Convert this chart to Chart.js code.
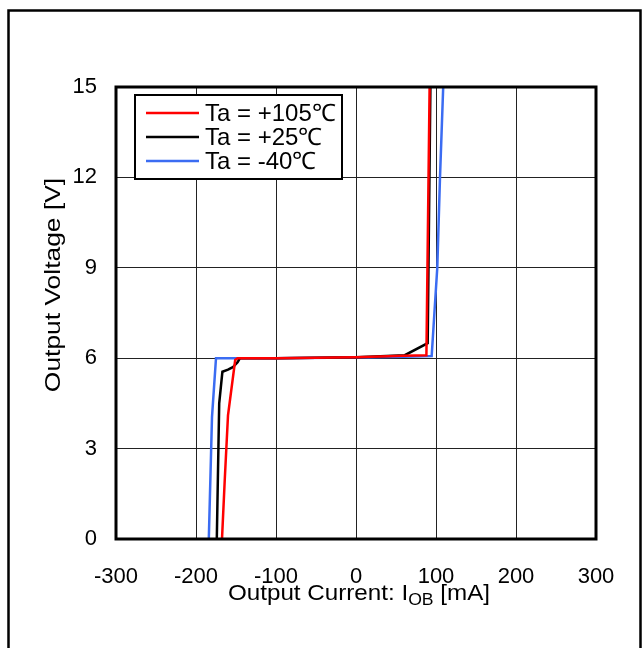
<!DOCTYPE html>
<html>
<head>
<meta charset="utf-8">
<script src="https://cdn.jsdelivr.net/npm/chart.js@4.4.1/dist/chart.umd.min.js"></script>
<style>
  html, body { margin: 0; padding: 0; background: #fff; }
  #wrap { position: relative; width: 643px; height: 648px; }
</style>
</head>
<body>
<div id="wrap"><canvas id="chart" width="643" height="648"></canvas></div>
<script>
// ---- data ----
const seriesNames = ['Ta = +105\u2103', 'Ta = +25\u2103', 'Ta = -40\u2103'];
const seriesColors = ['#ff0000', '#000000', '#3b6cf2'];

const hotX  = [-167.5, -164, -160, -151, -148, -100, 0, 60, 88, 92];
const hotY  = [0, 2.0, 4.1, 5.94, 6.0, 6.0, 6.03, 6.08, 6.1, 15];

const roomX = [-174, -171, -167, -160, -154, -148, -145, -100, 0, 61, 89.6, 93];
const roomY = [0, 4.5, 5.55, 5.62, 5.7, 5.87, 6.0, 6.0, 6.03, 6.1, 6.5, 15];

const coldX = [-184, -180, -175, -100, 0, 60, 94.6, 98, 101.6, 105, 109];
const coldY = [0, 4.05, 6.0, 6.0, 6.02, 6.05, 6.07, 7.5, 9.0, 12, 15];

const xTicks = [-300, -200, -100, 0, 100, 200, 300];
const yTicks = [0, 3, 6, 9, 12, 15];

const FONT = '"Liberation Sans", Arial, sans-serif';

function toPoints(xs, ys) {
    return xs.map((x, i) => ({ x: x, y: ys[i] }));
}

// ---- frame, plot box, legend and axis titles ----
const decor = {
    id: 'decor',
    beforeDraw(chart) {
        const c = chart.ctx;
        c.save();
        c.fillStyle = '#fff';
        c.fillRect(0, 0, chart.width, chart.height);
        c.strokeStyle = '#000';
        c.lineWidth = 2.5;
        c.strokeRect(8.5, 10.5, 632, 700);
        c.restore();
    },
    afterDatasetsDraw(chart) {
        const c = chart.ctx;
        const a = chart.chartArea;
        c.save();
        // plot border
        c.strokeStyle = '#000';
        c.lineWidth = 3;
        c.strokeRect(a.left, a.top, a.right - a.left, a.bottom - a.top);

        // legend box
        const lx = a.left + 19, ly = a.top + 8, lw = 207, lh = 84;
        c.fillStyle = '#fff';
        c.fillRect(lx, ly, lw, lh);
        c.lineWidth = 2;
        c.strokeRect(lx, ly, lw, lh);
        c.font = '24px ' + FONT;
        c.textBaseline = 'middle';
        seriesNames.forEach((name, i) => {
            const yy = ly + 18 + i * 24;
            c.strokeStyle = seriesColors[i];
            c.lineWidth = 2.5;
            c.beginPath();
            c.moveTo(lx + 11, yy);
            c.lineTo(lx + 64, yy);
            c.stroke();
            c.fillStyle = '#000';
            c.fillText(name, lx + 70, yy + 1);
        });

        // x axis title with subscript
        c.fillStyle = '#000';
        c.textBaseline = 'alphabetic';
        const parts = [['Output Current: I', 22, 0], ['OB', 16, 5], [' [mA]', 22, 0]];
        const sx = 1.1;
        let total = 0;
        parts.forEach(p => { c.font = p[1] + 'px ' + FONT; total += c.measureText(p[0]).width; });
        c.save();
        c.translate((a.left + a.right) / 2 - total * sx / 2 + 3, a.bottom + 61);
        c.scale(sx, 1);
        let x = 0;
        parts.forEach(p => {
            c.font = p[1] + 'px ' + FONT;
            c.fillText(p[0], x, p[2]);
            x += c.measureText(p[0]).width;
        });
        c.restore();

        // y axis title
        c.translate(54, 285);
        c.rotate(-Math.PI / 2);
        c.scale(1.2, 1);
        c.font = '22px ' + FONT;
        c.textAlign = 'center';
        c.textBaseline = 'middle';
        c.fillText('Output Voltage [V]', 0, 0);
        c.restore();
    }
};

new Chart(document.getElementById('chart'), {
    type: 'line',
    data: {
        datasets: [
            { label: seriesNames[0], data: toPoints(hotX, hotY), borderColor: seriesColors[0] },
            { label: seriesNames[1], data: toPoints(roomX, roomY), borderColor: seriesColors[1] },
            { label: seriesNames[2], data: toPoints(coldX, coldY), borderColor: seriesColors[2] }
        ]
    },
    options: {
        responsive: false,
        animation: false,
        devicePixelRatio: 1,
        layout: { padding: { top: 87, right: 47, left: 0, bottom: 0 } },
        elements: {
            point: { radius: 0 },
            line: { borderWidth: 2.5, tension: 0, fill: false }
        },
        plugins: {
            legend: { display: false },
            tooltip: { enabled: false }
        },
        scales: {
            x: {
                type: 'linear',
                min: -300,
                max: 300,
                afterBuildTicks: s => { s.ticks = xTicks.map(v => ({ value: v })); },
                afterFit: s => { s.height = 109; },
                grid: { color: '#222', lineWidth: 1, drawTicks: false },
                border: { display: false },
                ticks: { color: '#000', padding: 25, font: { family: FONT, size: 22 } }
            },
            y: {
                type: 'linear',
                min: 0,
                max: 15,
                afterBuildTicks: s => { s.ticks = yTicks.map(v => ({ value: v })); },
                afterFit: s => { s.width = 116; },
                grid: { color: '#222', lineWidth: 1, drawTicks: false },
                border: { display: false },
                ticks: { color: '#000', padding: 19, font: { family: FONT, size: 22 } }
            }
        }
    },
    plugins: [decor]
});
</script>
</body>
</html>
